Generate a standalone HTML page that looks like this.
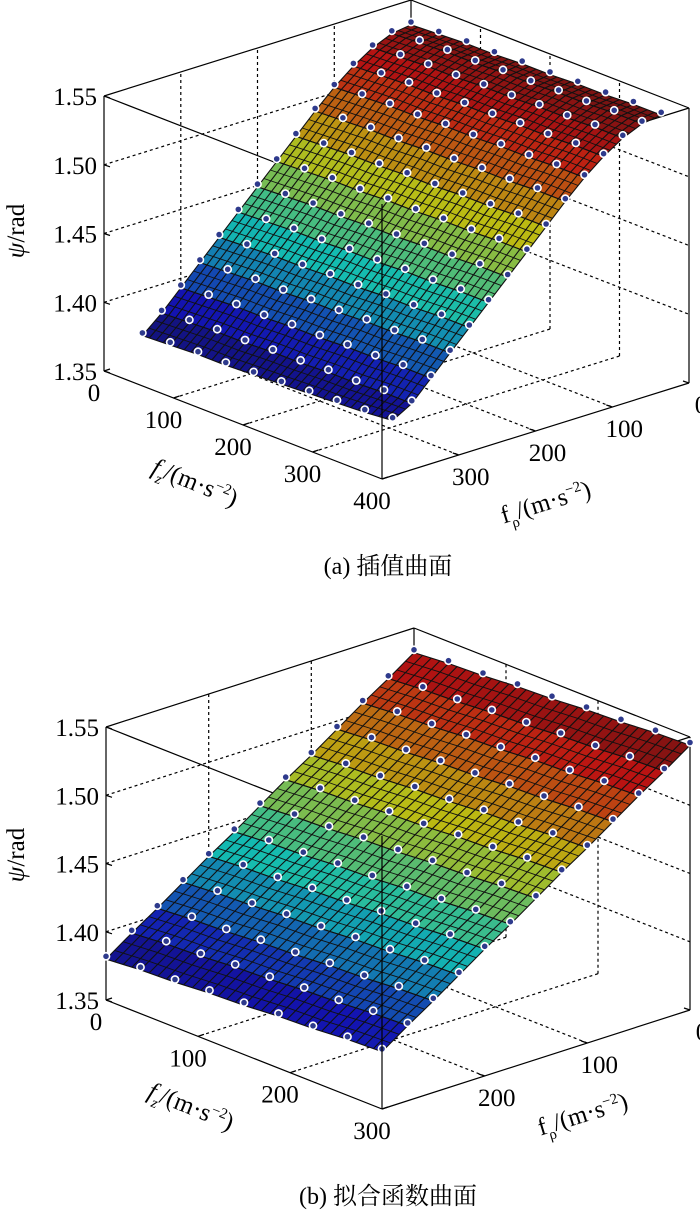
<!DOCTYPE html>
<html><head><meta charset="utf-8"><style>
html,body{margin:0;padding:0;background:#fff;}
svg{display:block;font-family:"Liberation Serif","Noto Serif CJK SC",serif;}
</style></head><body>
<svg id="fig" width="700" height="1211" viewBox="0 0 700 1211" xmlns="http://www.w3.org/2000/svg">
<g id="chartA"></g>
<g id="chartB"></g>
</svg>
<script>
// ---- Chart (a) data ----
const topFz = [0,40,80,120,160,200,240,280,320,360];
const topFp = [0,25,50,75,100,125,150,175,200,225,250,275,300,325,350];
const topZ = [
[1.532,1.533,1.534,1.534,1.535,1.535,1.536,1.536,1.537,1.537],
[1.530,1.531,1.532,1.532,1.533,1.533,1.534,1.534,1.535,1.535],
[1.524,1.525,1.526,1.526,1.527,1.527,1.528,1.528,1.529,1.529],
[1.515,1.516,1.517,1.517,1.518,1.518,1.519,1.519,1.520,1.520],
[1.504,1.505,1.506,1.506,1.507,1.507,1.508,1.508,1.509,1.509],
[1.491,1.492,1.493,1.493,1.494,1.494,1.495,1.495,1.496,1.496],
[1.477,1.478,1.479,1.479,1.480,1.480,1.481,1.481,1.482,1.482],
[1.463,1.464,1.465,1.465,1.466,1.466,1.467,1.467,1.468,1.468],
[1.449,1.450,1.451,1.451,1.452,1.452,1.453,1.453,1.454,1.454],
[1.435,1.436,1.437,1.437,1.438,1.438,1.439,1.439,1.440,1.440],
[1.421,1.422,1.423,1.423,1.424,1.424,1.425,1.425,1.426,1.426],
[1.407,1.408,1.409,1.409,1.410,1.410,1.411,1.411,1.412,1.412],
[1.393,1.394,1.395,1.395,1.396,1.396,1.397,1.397,1.398,1.398],
[1.379,1.380,1.381,1.381,1.382,1.382,1.383,1.383,1.384,1.384],
[1.367,1.368,1.369,1.369,1.370,1.371,1.372,1.373,1.374,1.376]
];
const topZTicks = [1.35,1.40,1.45,1.50,1.55];
const topZTickLabels = ["1.35","1.40","1.45","1.50","1.55"];
const topFzTicks = [0,100,200,300,400];
const topFpTicks = [0,100,200,300];

// ---- Chart (b) data ----
const botFz = [0,37.5,75,112.5,150,187.5,225,262.5,300];
const botFp = [0,25,50,75,100,125,150,175,200,225,250,275,300];
const botZ = [
[1.532,1.534,1.535,1.537,1.538,1.540,1.541,1.543,1.544],
[1.519,1.521,1.522,1.524,1.525,1.527,1.528,1.530,1.531],
[1.507,1.509,1.510,1.512,1.513,1.515,1.516,1.518,1.519],
[1.494,1.496,1.497,1.499,1.500,1.502,1.503,1.505,1.506],
[1.481,1.483,1.484,1.486,1.487,1.489,1.490,1.492,1.493],
[1.469,1.471,1.472,1.474,1.475,1.477,1.478,1.480,1.481],
[1.456,1.458,1.459,1.461,1.462,1.464,1.465,1.467,1.468],
[1.443,1.445,1.446,1.448,1.449,1.451,1.452,1.454,1.455],
[1.431,1.433,1.434,1.436,1.437,1.439,1.440,1.442,1.443],
[1.418,1.420,1.421,1.423,1.424,1.426,1.427,1.429,1.430],
[1.405,1.407,1.408,1.410,1.411,1.413,1.414,1.416,1.417],
[1.393,1.395,1.396,1.398,1.399,1.401,1.402,1.404,1.405],
[1.380,1.382,1.383,1.385,1.386,1.388,1.389,1.391,1.392]
];
const botZTicks = [1.35,1.40,1.45,1.50,1.55];
const botZTickLabels = ["1.35","1.40","1.45","1.50","1.55"];
const botFzTicks = [0,100,200,300];
const botFpTicks = [0,100,200];

const NS = "http://www.w3.org/2000/svg";
function mk(parent, tag, attrs){
  const e = document.createElementNS(NS, tag);
  for (const k in attrs) e.setAttribute(k, attrs[k]);
  parent.appendChild(e);
  return e;
}
function jet(t){
  t = Math.max(0, Math.min(1, t));
  const c = v => Math.max(0, Math.min(1, v));
  let r = c(1.5 - Math.abs(4*t-3)), g = c(1.5 - Math.abs(4*t-2)), b = c(1.5 - Math.abs(4*t-1));
  const m = 0.22;
  r = (r*(1-m)+0.4*m)*0.85; g = (g*(1-m)+0.4*m)*0.85; b = (b*(1-m)+0.4*m)*0.8;
  return "rgb("+Math.round(r*255)+","+Math.round(g*255)+","+Math.round(b*255)+")";
}

function drawChart(g, cfg, fzV, fpV, Z, zTicks, zLabels, fzTicks, fpTicks){
  const P = (fz, fp, z) => [
    cfg.back[0] + fz/cfg.max*cfg.r[0] + fp/cfg.max*cfg.l[0],
    cfg.back[1] + fz/cfg.max*cfg.r[1] + fp/cfg.max*cfg.l[1] - (z - cfg.zmin)*cfg.k
  ];
  const line = (a, b, dash, name, w) => {
    const e = mk(g, "line", {x1:a[0].toFixed(1), y1:a[1].toFixed(1), x2:b[0].toFixed(1), y2:b[1].toFixed(1), stroke:"#000", "stroke-width": w || 1.2});
    if (dash) e.setAttribute("stroke-dasharray", "3,3");
    
    
    return e;
  };
  const M = cfg.max, z0 = cfg.zmin, z1 = cfg.zmax;
  zTicks.forEach(z => {
    if (z > z0 && z < z1) {
      line(P(0,M,z), P(0,0,z), true, 'grid-line-z-left-wall');
      line(P(0,0,z), P(M,0,z), true, 'grid-line-z-right-wall');
    }
  });
  fpTicks.forEach(fp => {
    if (fp > 0 && fp < M) {
      line(P(0,fp,z0), P(0,fp,z1), true, 'grid-line-fp-wall');
      line(P(0,fp,z0), P(M,fp,z0), true, 'grid-line-fp-floor');
    }
  });
  fzTicks.forEach(fz => {
    if (fz > 0 && fz < M) {
      line(P(fz,0,z0), P(fz,0,z1), true, 'grid-line-fz-wall');
      line(P(fz,0,z0), P(fz,M,z0), true, 'grid-line-fz-floor');
    }
  });
  line(P(0,M,z0), P(0,M,z1), false, 'box-edge-left-vertical');
  line(P(0,0,z0), P(0,0,z1), false, 'box-edge-back-vertical');
  line(P(M,0,z0), P(M,0,z1), false, 'box-edge-right-vertical');
  line(P(0,M,z1), P(0,0,z1), false, 'box-edge-top-back-left');
  line(P(0,0,z1), P(M,0,z1), false, 'box-edge-top-back-right');
  line(P(0,M,z1), P(M,M,z1), false, 'box-edge-top-front-left');
  line(P(M,M,z1), P(M,0,z1), false, 'box-edge-top-front-right');

  const quads = [];
  for (let i = 0; i < fpV.length-1; i++)
    for (let j = 0; j < fzV.length-1; j++)
      quads.push([i,j, fpV[i]/M + fzV[j]/M]);
  quads.sort((a,b) => a[2]-b[2]);
  const surf = mk(g, "g", {});
  
  
  quads.forEach(q => {
    const i = q[0], j = q[1];
    const pts = [P(fzV[j],fpV[i],Z[i][j]), P(fzV[j+1],fpV[i],Z[i][j+1]), P(fzV[j+1],fpV[i+1],Z[i+1][j+1]), P(fzV[j],fpV[i+1],Z[i+1][j])];
    const zav = (Z[i][j]+Z[i][j+1]+Z[i+1][j]+Z[i+1][j+1])/4;
    const poly = mk(surf, "polygon", {points: pts.map(p => p[0].toFixed(1)+","+p[1].toFixed(1)).join(" "), fill: jet((zav-cfg.cmin)/(cfg.cmax-cfg.cmin)), stroke:"#111", "stroke-width":"1.1"});
    
    
    const a = pts[0], b = pts[1], c = pts[2], d = pts[3];
    for (let s = 1; s < 4; s++) {
      const t = s/4;
      const p1 = [a[0]+(b[0]-a[0])*t, a[1]+(b[1]-a[1])*t], p2 = [d[0]+(c[0]-d[0])*t, d[1]+(c[1]-d[1])*t];
      const h = mk(surf, "line", {x1:p1[0].toFixed(1), y1:p1[1].toFixed(1), x2:p2[0].toFixed(1), y2:p2[1].toFixed(1), stroke:"#111", "stroke-width":"1.1"});
      
      
    }
    for (let s = 1; s < 3; s++) {
      const t = s/3;
      const p1 = [a[0]+(d[0]-a[0])*t, a[1]+(d[1]-a[1])*t], p2 = [b[0]+(c[0]-b[0])*t, b[1]+(c[1]-b[1])*t];
      const h = mk(surf, "line", {x1:p1[0].toFixed(1), y1:p1[1].toFixed(1), x2:p2[0].toFixed(1), y2:p2[1].toFixed(1), stroke:"#111", "stroke-width":"0.9"});
      
      
    }
  });
  for (let i = 0; i < fpV.length; i++)
    for (let j = 0; j < fzV.length; j++) {
      const p = P(fzV[j], fpV[i], Z[i][j] + 0.002);
      const m = mk(g, "circle", {cx:p[0].toFixed(1), cy:p[1].toFixed(1), r:"3.6", fill:"#2e3a8c", stroke:"#fff", "stroke-width":"1.6"});
      
      
    }
  line(P(0,M,z0), P(M,M,z0), false, 'box-edge-floor-front-left');
  line(P(M,M,z0), P(M,0,z0), false, 'box-edge-floor-front-right');
  line(P(M,M,z0), P(M,M,z1), false, 'box-edge-front-vertical');
  zTicks.forEach((z, idx) => {
    const p = P(0,M,z);
    line(p, [p[0]+6, p[1]+2], false, 'z-tick');
    const t = mk(g, "text", {x:(p[0]-7).toFixed(1), y:(p[1]+9).toFixed(1), "text-anchor":"end", "font-size":"25"});
    t.textContent = zLabels[idx];
    
    
  });
  fzTicks.forEach(fz => {
    const p = P(fz,M,z0);
    line(p, [p[0]+6, p[1]-2], false, 'fz-tick');
    const t = mk(g, "text", {x:(p[0]+cfg.fzOff[0]).toFixed(1), y:(p[1]+cfg.fzOff[1]).toFixed(1), "text-anchor":"middle", "font-size":"25"});
    t.textContent = String(fz);
    
    
  });
  fpTicks.forEach(fp => {
    const p = P(M,fp,z0);
    line(p, [p[0]-6, p[1]-2], false, 'fp-tick');
    const t = mk(g, "text", {x:(p[0]+cfg.fpOff[0]).toFixed(1), y:(p[1]+cfg.fpOff[1]).toFixed(1), "text-anchor":"middle", "font-size":"25"});
    t.textContent = String(fp);
    
    
  });
  const yt = mk(g, "text", {x:cfg.yTitle[0], y:cfg.yTitle[1], "text-anchor":"middle", "font-size":"25", transform:"rotate(-90 "+cfg.yTitle[0]+" "+cfg.yTitle[1]+")"});
  yt.innerHTML = '<tspan font-style="italic">ψ</tspan>/rad';
  
  
  const ft = mk(g, "text", {x:cfg.fzTitle[0], y:cfg.fzTitle[1], "text-anchor":"middle", "font-size":"25", transform:"rotate(22 "+cfg.fzTitle[0]+" "+cfg.fzTitle[1]+")"});
  ft.innerHTML = '<tspan font-style="italic">f</tspan><tspan font-style="italic" font-size="15" dy="7">z</tspan><tspan dy="-7">/(m·s</tspan><tspan font-size="15" dy="-9">−2</tspan><tspan dy="9">)</tspan>';
  
  
  const pt = mk(g, "text", {x:cfg.fpTitle[0], y:cfg.fpTitle[1], "text-anchor":"middle", "font-size":"25", transform:"rotate(-17 "+cfg.fpTitle[0]+" "+cfg.fpTitle[1]+")"});
  pt.innerHTML = 'f<tspan font-size="15" dy="7">ρ</tspan><tspan dy="-7">/(m·s</tspan><tspan font-size="15" dy="-9">−2</tspan><tspan dy="9">)</tspan>';
  
  
  const cap = mk(g, "text", {x:cfg.cap[0], y:cfg.cap[1], "text-anchor":"middle", "font-size":"24"});
  cap.textContent = cfg.capText;
  
  
}

drawChart(document.getElementById("chartA"), {
  back:[411,275], r:[278,108], l:[-307,96], k:1375, max:400, zmin:1.35, zmax:1.55,
  cmin:1.365, cmax:1.54, fzOff:[-10,30], fpOff:[12,30],
  yTitle:[24,231], fzTitle:[192,490], fpTitle:[548,510], cap:[388,574], capText:"(a) 插值曲面"
}, topFz, topFp, topZ, topZTicks, topZTickLabels, topFzTicks, topFpTicks);

drawChart(document.getElementById("chartB"), {
  back:[414,901], r:[276,109], l:[-308,99], k:1365, max:300, zmin:1.35, zmax:1.55,
  cmin:1.375, cmax:1.545, fzOff:[-10,30], fpOff:[12,30],
  yTitle:[24,855], fzTitle:[188,1114], fpTitle:[585,1122], cap:[388,1204], capText:"(b) 拟合函数曲面"
}, botFz, botFp, botZ, botZTicks, botZTickLabels, botFzTicks, botFpTicks);
</script>
</body></html>
